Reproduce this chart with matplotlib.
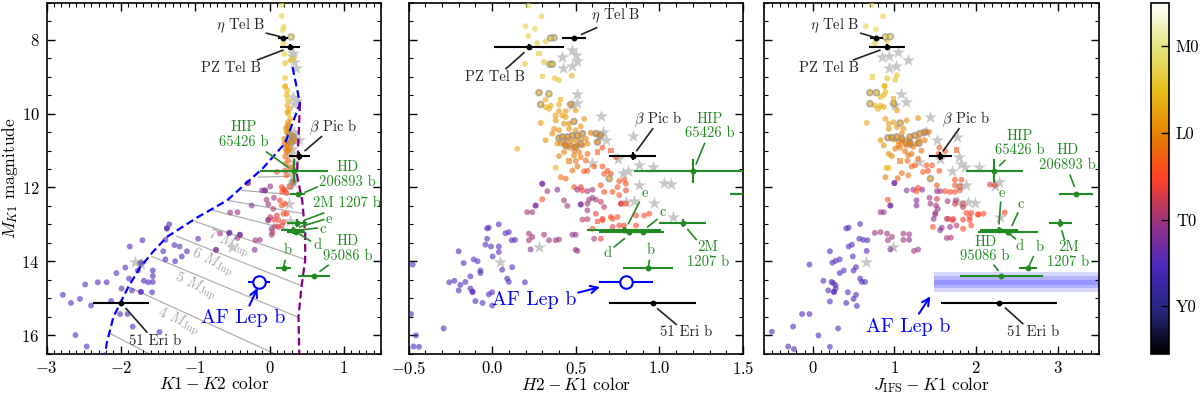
import numpy as np
import matplotlib
matplotlib.use("Agg")
import matplotlib.pyplot as plt
from matplotlib import cm
from matplotlib.colors import Normalize
from matplotlib.ticker import MultipleLocator

plt.rcParams['font.family'] = ['cmr10', 'DejaVu Sans']
plt.rcParams['mathtext.fontset'] = 'cm'
plt.rcParams['axes.formatter.use_mathtext'] = True
plt.rcParams['axes.unicode_minus'] = True

# field objects, (color, magnitude, spectral type with M0=0 L0=10 T0=20 Y0=30)
k1k2_dots = [(.165,7.05,2),(.165,7.35,3),(.19,7.65,3),(.18,7.74,3),(.19,8.09,4),(.2,8.38,4),(.21,8.63,5),(.28,8.56,5),
    (.32,8.51,5),(.21,9.03,5),(.21,9.26,6),(.21,9.26,6),(.24,9.37,6),(.23,9.5,7),(.25,9.64,6),(.24,9.78,7),(.27,9.87,7),(.25,10.0,7),(.24,9.95,8),
    (.28,10.14,8),(.25,10.23,8),(.24,10.34,9),(.27,10.41,9),(.23,10.5,9),(.26,10.3,9),(.22,10.4,9),(.25,10.55,10),(.2,10.68,10),(.24,10.72,10),(.23,10.86,11),(.25,10.8,10),(.2,10.8,10),
    (.27,10.95,11),(.23,11.04,11),(.22,10.95,11),(.25,11.0,10),(.21,11.16,12),(.25,11.27,12),(.22,11.36,12),(.28,11.45,13),(.1,11.58,14),(.21,11.54,14),
    (.23,11.67,14),(-.29,11.88,21),(-.29,11.88,21),(-.06,12.08,22),(-.06,12.08,22),(-.1,12.08,22),(.01,11.97,21),(.165,11.99,15),(.21,12.08,14),(.19,12.05,14),(.17,12.12,14),
    (.23,12.15,15),(-.04,12.33,20),(.06,12.28,20),(.14,12.35,16),(-.24,12.49,22),(-.015,12.46,20),(.165,12.49,14),
    (.21,12.44,15),(.05,12.58,19),(.1,12.76,17),(.01,12.8,19),(.06,12.87,17),(.12,12.89,16),(.19,12.71,15),(.23,12.71,15),
    (-.015,12.89,20),(.12,13.07,17),(.03,13.12,22),(.075,13.05,18),(.165,13.03,16),(.04,13.21,18),(.19,12.94,16),
    (.03,13.28,20),(-.19,13.43,20),(-.13,13.42,20),(-.2,13.69,22),(-.396,13.28,22),(-.54,13.23,23),(-.54,13.23,23),(-.665,13.25,20),
    (-.72,13.69,22),(-.72,13.69,22),(-.53,12.68,20),(-.43,12.67,20),(-.02,12.88,20),(-.4,13.28,24),(-.43,13.37,20),
    (-2.78,14.91,25),(-2.67,15.13,25),(-2.55,15.02,25),(-2.40,15.2,25),(-2.48,14.63,25),(-2.31,14.57,25),(-2.19,14.57,25),
    (-2.13,15.08,25),(-2.06,14.32,25),(-1.94,14.17,25),(-1.88,13.6,25),(-1.71,13.43,25),(-1.99,14.74,25),(-1.89,14.47,25),
    (-1.85,14.79,25),(-1.73,14.83,25),(-1.73,14.83,25),(-1.69,14.53,25),(-1.63,14.57,25),(-1.57,14.56,25),(-1.57,14.4,25),(-1.57,14.25,25),
    (-1.77,14.25,25),(-1.58,14.84,25),(-2.01,15.43,25),(-1.91,15.43,25),(-1.84,15.77,25),(-2.61,16.0,25),(-2.46,16.31,25),
    (-1.48,15.92,25),(-1.40,13.95,25),(-1.27,14.0,25),(-1.43,13.73,25),(-1.28,13.56,25),(-1.21,13.6,25),(-1.11,13.73,25),
    (-1.18,13.87,25),(-.96,13.39,24),(-1.40,13.42,25),(-1.38,13.11,25),(-1.38,13.11,25),(-1.35,13.0,25)]
k1k2_rings = [(.29,7.92,4),(.28,10.59,9),(.32,10.63,9),(.3,10.77,10),(.34,10.72,10),(.32,11.85,14),(.28,11.97,14),(-1.73,14.05,25)]
k1k2_squares = []
k1k2_stars = [(.31,8.35),(.33,8.6),(.35,8.75),(.30,8.45),(.31,9.55),(.37,9.65),(.33,9.75),(.31,10.6),(.4,10.72),(.28,10.8),(.33,10.5),(.30,10.95),(.28,11.1),(.33,11.3),
    (.30,11.5),(.32,11.85),(.31,11.65),(.26,12.45),(.27,12.9),(-.51,13.62),(-1.81,14.02),(-1.73,14.08)]

h2k1_dots = [(.216,7.07,2),(.296,7.36,3),(.20,7.63,3),(.256,7.7,3),(.216,7.9,3),(.32,8.04,4),(.27,8.09,4),(.216,8.2,4),
    (.31,8.6,5),(.197,8.65,4),(.375,9.04,5),(.40,9.09,5),(.476,8.97,6),
    (.32,9.62,7),(.35,9.78,7),(.32,9.82,7),(.34,9.87,7),(.40,9.75,7),(.50,9.91,8),(.40,9.93,8),(.44,9.93,8),(.38,10.05,8),
    (.42,10.05,8),(.44,10.09,8),(.55,10.14,9),(.29,10.25,8),(.38,10.18,9),(.43,10.27,9),(.46,10.27,9),(.53,10.34,9),
    (.46,10.41,9),(.50,10.45,9),(.37,10.41,9),(.40,10.45,9),(.36,10.54,10),(.59,10.52,11),(.32,10.72,9),(.15,10.95,6),
    (.41,10.81,10),(.44,10.86,11),(.47,10.86,11),(.51,10.86,10),(.54,10.86,10),(.57,10.81,10),(.39,10.81,9),(.66,10.92,14),
    (.44,10.7,10),(.47,10.75,11),(.50,10.72,10),(.53,10.7,10),(.46,10.92,11),(.43,10.8,11),(.49,10.9,11),(.56,10.68,11),
    (.57,11.09,12),(.74,11.18,13),(.49,11.0,11),(.52,11.04,11),(.49,11.13,11),(.53,11.18,11),(.43,11.04,10),(.40,11.15,10),
    (.38,11.46,6),(.50,11.28,12),(.56,11.27,13),(.51,11.43,12),(.48,11.54,12),(.41,11.72,11),(.44,11.76,13),(.55,11.56,14),
    (.57,11.55,14),(.61,11.43,13),(.66,11.43,14),(.69,11.55,14),(.71,11.63,14),(.67,11.63,14),(.76,11.83,14),(.79,11.79,14),
    (.80,11.9,14),(.75,11.99,14),(.80,12.08,15),(.76,12.21,14),(.49,11.99,14),(.53,11.99,17),(.51,12.06,21),(.54,12.08,16),
    (.57,12.10,20),(.60,12.06,20),(.65,11.94,14),(.67,12.12,14),(.72,12.12,14),(.77,12.44,17),(.77,12.44,17),(.80,12.44,14),(.30,11.9,23),
    (.30,11.9,23),(.39,12.06,22),(.33,12.1,20),(.30,12.32,14),(.26,12.49,22),(.26,12.49,22),(.24,12.67,20),(.21,12.67,20),(.43,12.35,20),(.45,12.5,20),
    (.53,12.46,22),(.53,12.46,22),(.58,12.33,20),(.57,12.44,20),(.60,12.28,20),(.62,12.33,20),(.65,12.39,18),(.67,12.53,19),(.57,12.62,20),
    (.62,12.71,16),(.66,12.85,16),(.71,12.8,15),(.75,12.8,14),(.54,12.87,19),(.57,12.86,19),(.66,12.89,15),(.72,12.85,14),
    (.79,13.03,15),(.91,12.76,15),(.86,12.76,15),(.94,12.71,15),(.86,13.03,15),(.72,13.07,17),(.60,13.12,15),(.65,13.39,16),
    (.61,13.39,20),(.76,13.03,16),(.48,13.28,21),(.50,13.28,21),(.50,13.69,21),(.51,13.72,20),(.40,13.41,20),(.38,13.43,20),
    (.34,13.43,20),(.31,13.28,20),(.24,13.34,21),(.22,13.43,20),(.22,13.25,20),(.23,13.68,22),
    (.04,13.0,25),(-.02,13.09,25),(-.03,13.11,25),(.08,13.24,25),(.10,13.21,25),(-.03,13.39,25),(-.04,13.55,25),(-.007,13.6,25),
    (.04,13.6,25),(.117,13.43,25),(.137,13.42,25),(.04,13.75,25),(.003,13.87,25),(-.2,13.73,25),(-.17,14.05,25),(-.11,13.95,25),
    (-.087,14.0,25),(-.475,14.09,25),(.06,14.23,25),(.12,14.16,25),(-.07,14.25,25),(-.07,14.32,25),(-.13,14.41,25),(-.16,14.56,25),
    (-.19,14.64,25),(-.226,14.53,25),(-.256,14.57,25),(-.2,14.79,25),(-.13,14.74,25),(-.117,14.83,25),(-.117,14.83,25),(.09,14.47,25),(.10,14.56,25),
    (.196,14.57,25),(.0,14.84,25),(-.02,14.9,25),(-.1,15.08,25),(-.057,15.13,25),(0.0,15.2,25),(-.485,15.43,25),(-.29,15.82,25),
    (-.455,16.01,25),(-.47,16.31,25),(-.437,16.32,25)]
h2k1_rings = [(.37,7.94,4),(.35,7.95,4),(.346,8.66,5),(.36,8.66,5),(.28,9.43,7),(.34,9.46,6),(.29,9.75,7),(.47,9.75,8),
    (.49,10.21,9),(.40,10.66,9),(.42,10.63,9),(.45,10.63,10),(.48,10.59,10),(.51,10.59,10),(.54,10.54,10),(.62,10.54,11),
    (.65,10.59,11),(.63,10.77,11),(.70,11.76,8),(.44,10.86,10),(.53,10.82,10),(.50,10.9,10)]
h2k1_squares = [(.28,8.37,4),(.30,8.99,4),(.41,9.61,7),(.63,11.04,13),(.71,11.0,14),(.46,11.28,11),(.63,12.92,15)]
h2k1_stars = [(.476,8.28),(.42,8.47),(.5,8.42),(.51,8.58),(.425,8.76),(.48,8.72),(.51,9.47),(.51,9.71),(.48,9.76),(.65,10.07),
    (.66,10.5),(.64,10.6),(.68,10.72),(.84,10.61),(.595,11.33),(.755,11.22),(.88,11.4),(.96,11.45),(.81,11.54),(.78,11.62),
    (.88,11.92),(1.03,11.87),(1.07,11.9),(.80,12.4),(.85,12.38),(.97,12.43),(1.08,12.8),(.28,13.62),(.05,14.02)]

jk1_dots = [(.72,7.06,2),(.86,7.36,3),(.65,7.63,3),(.77,7.71,3),(.76,8.09,4),(.91,8.03,4),(.91,9.04,5),(1.01,9.08,5),(1.03,8.96,5),
    (.88,9.25,6),(.88,9.25,6),(.89,9.41,6),(.83,9.55,6),(.87,9.5,6),(.76,9.78,7),(.83,9.78,7),(.87,9.82,7),(.8,9.87,7),(1.03,9.91,8),
    (.66,10.25,7),(.89,10.14,8),(.93,10.27,8),(.99,10.23,8),(1.15,10.18,9),(1.29,10.12,9),(.93,10.41,9),(1.03,10.36,9),(1.11,10.41,9),
    (1.09,10.54,10),(1.19,10.77,10),(1.27,10.81,10),(1.37,10.72,11),(1.11,10.72,10),(1.05,10.86,11),(1.09,10.77,10),(1.15,10.86,11),
    (1.0,10.7,10),(1.05,10.75,10),(1.13,10.82,11),(1.07,10.92,11),(1.17,10.72,10),(1.2,10.85,11),(1.3,10.7,10),
    (1.01,10.95,11),(.83,10.72,9),(.87,10.86,9),(1.42,10.5,11),(.93,11.09,10),(.97,11.15,10),(1.13,11.02,12),(1.23,10.9,11),(1.33,11.0,12),
    (1.21,11.09,12),(1.17,11.13,12),(1.16,11.28,13),(1.55,10.92,14),(1.62,11.02,13),(1.54,11.09,14),(1.29,11.22,12),(1.21,11.43,13),
    (1.25,11.4,13),(1.17,11.67,12),(1.09,11.61,12),(1.41,11.55,15),(1.55,11.55,14),(1.39,11.4,14),(1.46,11.4,14),(1.35,11.58,13),
    (1.74,11.79,14),(1.82,11.79,14),(1.74,11.94,14),(1.8,12.08,14),(1.74,12.12,14),(.9,11.47,6),(.93,11.47,6),(.89,11.72,11),(1.04,11.75,13),
    (1.0,11.88,23),(1.0,11.88,23),(2.17,11.92,17),(2.23,11.94,16),(1.15,12.08,21),(1.23,12.06,20),(1.29,12.01,15),(1.34,12.06,22),(1.27,12.1,15),
    (1.52,11.94,14),(1.52,12.1,21),(1.56,12.1,20),(1.62,12.1,15),(1.68,12.12,15),(.92,12.33,14),(.95,12.49,23),(.95,12.49,23),(.83,12.67,21),(.87,12.67,21),
    (1.27,12.35,22),(1.27,12.49,23),(1.43,12.28,20),(1.52,12.31,18),(1.44,12.44,20),(1.51,12.49,20),(1.53,12.58,21),(1.5,12.69,21),
    (1.65,12.37,20),(1.75,12.35,20),(1.84,12.44,18),(1.74,12.44,17),(1.84,12.53,18),(2.03,12.73,15),(2.09,12.71,15),(1.94,12.69,15),
    (1.88,12.69,15),(1.48,12.85,22),(1.66,12.85,17),(1.72,12.85,16),(1.92,12.8,15),(1.50,12.73,20),(1.64,12.85,18),(1.71,12.89,17),
    (1.84,12.87,16),(1.92,12.89,15),(2.02,12.73,15),(2.35,12.68,15),(1.94,13.03,15),(1.47,13.07,14),(1.58,13.09,21),(1.68,13.07,21),
    (1.76,13.03,19),(1.84,13.12,15),(1.56,13.16,22),(1.64,13.37,20),(1.69,13.36,19),(1.11,13.25,20),(1.18,13.27,20),(1.18,13.42,22),
    (1.11,13.42,20),(1.24,13.72,20),(1.29,13.68,21),(.97,13.34,20),(.91,13.25,20),(.83,13.21,20),(.76,13.23,20),(.92,13.43,20),(.95,13.68,22),
    (.58,12.99,25),(.41,13.11,25),(.44,13.09,25),(.57,13.39,25),(.62,13.42,25),(.67,13.43,25),(.48,13.55,25),(.44,13.6,25),(.66,13.72,25),
    (.21,13.73,25),(.49,13.87,25),(.33,13.95,25),(.28,13.99,25),(.24,14.04,25),(-.04,14.09,25),(.53,14.16,25),(.5,14.25,25),(.38,14.25,25),
    (.33,14.32,25),(.13,14.53,25),(.23,14.56,25),(.25,14.59,25),(.28,14.65,25),(.28,14.74,25),(.19,14.79,25),(.26,14.83,25),(.26,14.83,25),(.43,14.84,25),
    (.58,14.47,25),(.6,14.56,25),(.64,14.56,25),(.53,14.91,25),(.5,15.02,25),(.21,15.09,25),(.41,15.13,25),(.54,15.21,25),(-.13,15.43,25),
    (-.04,15.43,25),(-.24,15.77,25),(.31,15.82,25),(-.5,15.91,25),(.07,16.01,25),(.21,16.32,25),(-.3,16.31,25),(-.23,16.38,25)]
jk1_rings = [(.89,7.92,4),(.95,7.91,4),(.70,9.43,7),(.78,9.43,6),(.70,9.73,7),(.99,9.73,7),(1.07,10.25,8),(.92,10.65,9),(.97,10.65,9),
    (1.03,10.63,9),(1.09,10.68,10),(1.19,10.63,10),(1.25,10.59,10),(1.31,10.54,10),(1.37,10.5,11),(1.44,11.76,8),(1.8,11.98,14),(1.19,10.8,10),(1.3,10.8,10)]
jk1_squares = [(.73,9.0,4),(.99,9.6,7),(1.07,11.28,11),(1.76,10.98,14)]
jk1_stars = [(1.04,8.33),(.85,8.47),(.93,8.45),(1.17,8.55),(.93,8.76),(1.02,8.72),(1.08,9.47),(1.14,9.67),(1.01,9.77),(1.44,10.09),
    (1.39,10.5),(1.52,10.72),(1.76,10.62),(1.56,11.22),(1.30,11.3),(1.79,11.18),(1.82,11.36),(1.86,11.45),(2.04,11.45),(1.7,11.56),
    (1.87,11.92),(2.28,11.86),(2.23,11.97),(1.78,12.4),(1.9,12.4),(1.98,12.43),(2.29,12.8),(.98,13.62),(.65,14.02)]

# evolutionary tracks on K1-K2 panel
blue_track_x = [.31,.41,.21,-.09,-.57,-.97,-1.38,-1.57,-1.74,-1.90,-2.10,-2.19,-2.21]
blue_track_y = [8.74,9.72,10.80,11.48,12.35,12.81,13.34,13.75,14.16,14.70,15.51,16.22,16.5]
purple_track_x = [.41,.37,.44,.48,.48,.43,.39,.40]
purple_track_y = [9.72,11.67,12.35,13.24,13.97,14.7,15.5,16.5]
mass_lines = [((-.15,11.72),(.32,11.69)),((-.37,12.08),(.28,12.19)),((-.56,12.35),(.43,12.7)),((-.76,12.62),(.45,13.24)),
    ((-1.0,12.92),(.48,13.95)),((-1.25,13.32),(.45,14.68)),((-1.58,13.87),(.39,15.52)),((-1.88,14.71),(.05,16.49)),((-2.15,15.95),(-1.63,16.5))]
mass_labels = [(-.55,13.52,"7 $M_{\\rm Jup}$"),(-.77,14.03,"6 $M_{\\rm Jup}$"),(-1.0,14.68,"5 $M_{\\rm Jup}$"),(-1.23,15.63,"4 $M_{\\rm Jup}$")]

# companions (x, y, xerr, yerr)
black_k1k2 = [(.18,7.94,.07,.03),(.28,8.19,.135,.09),(.40,11.15,.14,.1),(-2.0,15.12,.38,.03)]
green_k1k2 = [(.33,11.56,.46,.32),(.38,12.17,.1,.03),(.37,12.96,.14,.1),(.31,13.16,.15,.1),(.36,13.22,.12,.05),(.19,14.18,.1,.03),(.6,14.41,.22,.07)]
black_h2k1 = [(.49,7.94,.07,.03),(.22,8.19,.21,.09),(.84,11.15,.14,.1),(.96,15.12,.26,.03)]
green_h2k1 = [(1.2,11.56,.35,.32),(1.62,12.17,.2,.03),(1.14,12.96,.14,.1),(.79,13.16,.22,.08),(.90,13.21,.13,.05),(.82,13.22,.18,.05),(.93,14.18,.15,.03)]
black_jk1 = [(.78,7.94,.08,.03),(.91,8.19,.22,.09),(1.56,11.15,.14,.1),(2.28,15.12,.71,.03)]
green_jk1 = [(2.22,11.56,.35,.32),(3.22,12.17,.21,.03),(3.03,12.96,.14,.1),(2.28,13.16,.23,.08),(2.39,13.21,.2,.05),(2.39,13.22,.37,.05),(2.63,14.18,.11,.03),(2.31,14.41,.51,.07)]
af_lep_k1k2 = (-.14,14.57,.15)
af_lep_h2k1 = (.80,14.57,.16)
af_lep_band_x = [1.48,3.5]
af_lep_bands = [(14.30,14.84),(14.40,14.73),(14.50,14.65)]

# labels (text, text x, text y, line start, line end)
black_labels_k1k2 = [("$\\eta$ Tel B",-.39,7.61,(-.04,7.82),(.14,7.91)),("PZ Tel B",-.52,8.76,(-.16,8.54),(.18,8.28)),
    ("$\\beta$ Pic b",.86,10.36,(.70,10.62),(.48,11.0)),("51 Eri b",-1.54,16.16,(-1.93,15.28),(-1.65,15.92))]
green_labels_k1k2 = [("HIP\n65426 b",-.35,10.56,(-.04,11.04),(.25,11.45)),("HD\n206893 b",1.05,11.65,(.64,11.99),(.48,12.13)),
    ("2M 1207 b",1.04,12.42,(.73,12.69),(.47,12.89)),("e",.80,12.85,(.73,12.87),(.41,13.07)),("c",.72,13.13,(.64,13.10),(.39,13.16)),
    ("d",.64,13.57,(.55,13.45),(.41,13.27)),("b",.24,13.70,(.21,13.98),(.19,14.16)),("HD\n95086 b",1.05,13.65,(.79,14.11),(.68,14.27))]
black_labels_h2k1 = [("$\\eta$ Tel B",.74,7.36,(.625,7.67),(.535,7.85)),("PZ Tel B",.017,9.0,(.083,8.78),(.19,8.35)),
    ("$\\beta$ Pic b",.99,10.14,(.96,10.41),(.865,11.0)),("51 Eri b",1.16,15.92,(.99,15.29),(1.10,15.71))]
green_labels_h2k1 = [("HIP\n65426 b",1.30,10.34,(1.27,10.81),(1.22,11.36)),("e",.91,12.15,(.88,12.4),(.815,12.98)),
    ("c",1.02,12.67,(.985,12.87),(.93,13.07)),("d",.69,13.79,(.73,13.61),(.79,13.39)),("b",.95,13.70,(.94,13.98),(.935,14.13)),
    ("2M\n1207 b",1.29,13.82,(1.22,13.41),(1.17,13.14))]
black_labels_jk1 = [("$\\eta$ Tel B",.27,7.61,(.59,7.82),(.74,7.92)),("PZ Tel B",.2,8.76,(.5,8.54),(.82,8.28)),
    ("$\\beta$ Pic b",1.87,10.14,(1.79,10.41),(1.6,11.0)),("51 Eri b",2.7,15.92,(2.36,15.27),(2.57,15.69))]
green_labels_jk1 = [("HIP\n65426 b",2.53,10.8,(2.35,11.27),(2.29,11.4)),("HD\n206893 b",3.12,11.19,(3.15,11.67),(3.2,11.96)),
    ("e",2.31,12.15,(2.30,12.4),(2.28,12.98)),("c",2.55,12.46,(2.51,12.69),(2.44,13.03)),("d",2.53,13.59,(2.48,13.39),(2.39,13.22)),
    ("b",2.78,13.62,(2.70,13.88),(2.65,14.11)),("2M\n1207 b",3.13,13.82,(3.08,13.41),(3.05,13.18)),("HD\n95086 b",2.11,13.67,(2.22,14.11),(2.27,14.25))]

cbar_ticks = [0,10,20,30]
cbar_labels = ["M0","L0","T0","Y0"]

green = '#228b22'
blue = '#0000ff'
norm = Normalize(vmin=-5,vmax=35.5)
cmap = plt.get_cmap('CMRmap_r')


def draw_field(ax,dots,rings,squares,stars):
    st=np.array(stars)
    ax.scatter(st[:,0],st[:,1],marker='*',s=95,c='#c4c4c4',linewidths=0,alpha=.95,zorder=2)
    d=np.array(dots)
    ax.scatter(d[:,0],d[:,1],c=d[:,2],cmap=cmap,norm=norm,s=18,alpha=.6,linewidths=0,zorder=3)
    r=np.array(rings)
    ax.scatter(r[:,0],r[:,1],c=r[:,2],cmap=cmap,norm=norm,s=18,alpha=.65,edgecolors='#8c8c8c',linewidths=1.2,zorder=3)
    if squares:
        q=np.array(squares)
        ax.scatter(q[:,0],q[:,1],c=q[:,2],cmap=cmap,norm=norm,s=16,alpha=.6,marker='s',linewidths=0,zorder=3)


def draw_companions(ax,rows,color):
    for x,y,xe,ye in rows:
        ax.errorbar(x,y,xerr=xe,yerr=ye,color=color,marker='o',ms=3.2,lw=1.5,capsize=0,zorder=6)


def draw_labels(ax,rows,color):
    for txt,tx,ty,p0,p1 in rows:
        ax.text(tx,ty,txt,color=color,ha='center',va='center',fontsize=10.5,linespacing=1.1,zorder=7)
        ax.plot([p0[0],p1[0]],[p0[1],p1[1]],color=color,lw=1.2,zorder=6)


def af_lep_arrow(ax,tx,ty,p0,p1):
    ax.text(tx,ty,"AF Lep b",color=blue,ha='center',va='center',fontsize=14.3,zorder=7)
    ax.annotate("",xy=p1,xytext=p0,arrowprops=dict(arrowstyle='->',color=blue,lw=1.5,mutation_scale=13,shrinkA=0,shrinkB=0),zorder=7)


def af_lep_point(ax,pt):
    ax.errorbar(pt[0],pt[1],xerr=pt[2],color=blue,lw=1.5,capsize=0,zorder=6)
    ax.plot(pt[0],pt[1],'o',mfc='white',mec=blue,mew=1.5,ms=9,zorder=7)


def setup_axes(ax,xlim,xmajor,xminor,xlabel):
    ax.set_xlim(*xlim)
    ax.set_ylim(16.5,7)
    ax.xaxis.set_major_locator(MultipleLocator(xmajor))
    ax.xaxis.set_minor_locator(MultipleLocator(xminor))
    ax.yaxis.set_major_locator(MultipleLocator(2))
    ax.yaxis.set_minor_locator(MultipleLocator(.5))
    ax.tick_params(which='major',direction='in',top=True,right=True,length=5.5,width=1.0,labelsize=12,pad=5)
    ax.tick_params(which='minor',direction='in',top=True,right=True,length=3,width=.8)
    ax.set_xlabel(xlabel,fontsize=12.5,labelpad=-1)
    for s in ax.spines.values():
        s.set_linewidth(1.2)


W,H=1200.,398.
fig=plt.figure(figsize=(12,3.98),dpi=100)

def panel(x0,x1):
    return fig.add_axes([x0/W,(H-353.5)/H,(x1-x0)/W,350.5/H])

ax1=panel(46.5,381)
ax2=panel(408.5,743)
ax3=panel(763.7,1098.7)

# first panel
for (p0,p1) in mass_lines:
    ax1.plot([p0[0],p1[0]],[p0[1],p1[1]],color='#b0b0b0',lw=.9,zorder=1)
for mx,my,txt in mass_labels:
    ax1.text(mx,my,txt,color='#a8a8a8',fontsize=10.5,rotation=-24,ha='center',va='center',zorder=2)
draw_field(ax1,k1k2_dots,k1k2_rings,k1k2_squares,k1k2_stars)
ax1.plot(blue_track_x,blue_track_y,color=blue,lw=1.6,ls=(0,(3.5,1.8)),zorder=4)
ax1.plot(purple_track_x,purple_track_y,color='purple',lw=1.6,ls=(0,(3.5,1.8)),zorder=4)
draw_companions(ax1,black_k1k2,'black')
draw_companions(ax1,green_k1k2,green)
draw_labels(ax1,black_labels_k1k2,'#222222')
draw_labels(ax1,green_labels_k1k2,green)
af_lep_point(ax1,af_lep_k1k2)
af_lep_arrow(ax1,-.36,15.54,(-.27,15.2),(-.16,14.72))
setup_axes(ax1,(-3,1.5),1,.1,"$K1-K2$ color")
ax1.set_ylabel("$M_{K1}$ magnitude",fontsize=12.5,labelpad=1)

# second panel
draw_field(ax2,h2k1_dots,h2k1_rings,h2k1_squares,h2k1_stars)
draw_companions(ax2,black_h2k1,'black')
draw_companions(ax2,green_h2k1,green)
draw_labels(ax2,black_labels_h2k1,'#222222')
draw_labels(ax2,green_labels_h2k1,green)
af_lep_point(ax2,af_lep_h2k1)
af_lep_arrow(ax2,.25,15.06,(.515,14.85),(.645,14.7))
setup_axes(ax2,(-.5,1.5),.5,.1,"$H2-K1$ color")
ax2.tick_params(labelleft=False)

# third panel
draw_field(ax3,jk1_dots,jk1_rings,jk1_squares,jk1_stars)
for lo,hi in af_lep_bands:
    ax3.fill_between(af_lep_band_x,[lo,lo],[hi,hi],color=blue,alpha=.16,linewidth=0,zorder=2)
draw_companions(ax3,black_jk1,'black')
draw_companions(ax3,green_jk1,green)
draw_labels(ax3,black_labels_jk1,'#222222')
draw_labels(ax3,green_labels_jk1,green)
af_lep_arrow(ax3,1.17,15.78,(1.30,15.42),(1.44,14.95))
setup_axes(ax3,(-.6,3.5),1,.1,"$J_{\\rm IFS}-K1$ color")
ax3.tick_params(labelleft=False)

# colorbar
cax=fig.add_axes([1151/W,(H-354)/H,18/W,351/H])
sm=cm.ScalarMappable(norm=norm,cmap=cmap)
cb=fig.colorbar(sm,cax=cax)
cax.set_ylim(35.5,-5)
cb.set_ticks(cbar_ticks)
cb.set_ticklabels(cbar_labels)
cax.minorticks_off()
cax.tick_params(direction='in',length=5.5,width=1.0,labelsize=12,pad=5)
cb.outline.set_linewidth(1.2)

fig.savefig("out.png",dpi=100)
